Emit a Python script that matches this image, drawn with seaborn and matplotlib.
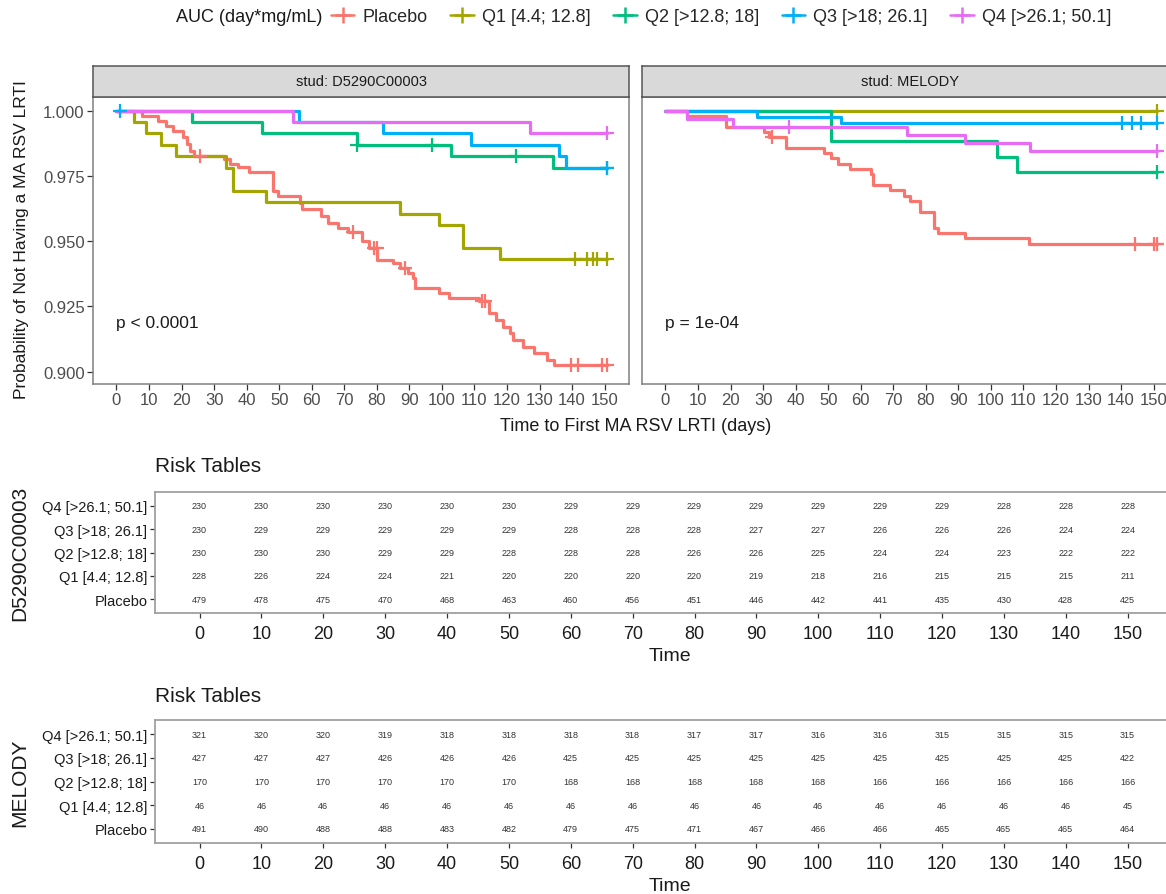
import numpy as np
import pandas as pd
import matplotlib
matplotlib.use("Agg")
import matplotlib.pyplot as plt
import seaborn as sns
from matplotlib.lines import Line2D

sns.set_style("white")
plt.rcParams["font.family"] = ["Liberation Sans", "DejaVu Sans"]

# ---------------- data ----------------
groups = ["Placebo", "Q1 [4.4; 12.8]", "Q2 [>12.8; 18]", "Q3 [>18; 26.1]", "Q4 [>26.1; 50.1]"]
colors = ["#F8766D", "#A3A500", "#00BF7D", "#00B0F6", "#E76BF3"]
studies = ["D5290C00003", "MELODY"]
legend_title = "AUC (day*mg/mL)"
p_values = ["p < 0.0001", "p = 1e-04"]

# D5290C00003 - event times / survival after each event / censor times
d3_placebo_t = [7.9, 12.7, 15.3, 17.4, 20.6, 21.6, 22.7, 23.7, 33.2, 34.8, 37.4, 40.6, 48.0, 49.6,
                56.4, 57.0, 62.8, 64.9, 68.0, 71.2, 75.4, 77.5, 80.2, 84.9, 87.0, 89.7, 91.2, 91.8,
                99.2, 102.3, 111.3, 114.5, 116.6, 118.7, 120.8, 121.8, 125.0, 128.2, 132.4, 134.5]
d3_placebo_s = [0.99808, 0.99615, 0.99423, 0.99231, 0.98974, 0.98718, 0.98462, 0.98269, 0.98141,
                0.97949, 0.97821, 0.97654, 0.96923, 0.96731, 0.96474, 0.96218, 0.95962, 0.95705,
                0.95513, 0.95346, 0.95000, 0.94744, 0.94295, 0.94167, 0.93974, 0.93782, 0.93590,
                0.93205, 0.93013, 0.92821, 0.92692, 0.92244, 0.91987, 0.91731, 0.91474, 0.91218,
                0.90962, 0.90705, 0.90449, 0.90256]
d3_placebo_c = [25.8, 72.8, 79.0, 80.0, 88.6, 112.3, 113.4, 139.8, 141.9, 149.3, 150.8]
d3_q1_t = [5.3, 9.0, 13.7, 18.2, 33.8, 35.9, 46.0, 87.0, 99.2, 106.5, 118.0]
d3_q1_s = [0.99561, 0.99123, 0.98684, 0.98246, 0.97807, 0.96930, 0.96491, 0.96053, 0.95614, 0.94737, 0.94298]
d3_q1_c = [140.8, 144.7, 146.3, 147.8, 150.8]
d3_q2_t = [23.2, 44.8, 73.8, 102.8, 134.0]
d3_q2_s = [0.99565, 0.99130, 0.98696, 0.98257, 0.97818]
d3_q2_c = [73.8, 97.0, 122.9, 150.8]
d3_q3_t = [56.0, 82.0, 109.0, 136.0, 138.0]
d3_q3_s = [0.99563, 0.99127, 0.98690, 0.98254, 0.97817]
d3_q3_c = [1.0, 150.8]
d3_q4_t = [54.3, 127.0]
d3_q4_s = [0.99565, 0.99130]
d3_q4_c = [150.8]

# MELODY
mel_placebo_t = [6.7, 18.7, 30.2, 31.7, 36.9, 48.8, 50.9, 53.0, 56.8, 63.3, 63.9, 69.1, 73.2, 75.3,
                 78.2, 82.6, 83.9, 91.9, 111.6]
mel_placebo_s = [0.99796, 0.99389, 0.99185, 0.98982, 0.98574, 0.98370, 0.98166, 0.97962, 0.97760,
                 0.97556, 0.97148, 0.96945, 0.96741, 0.96537, 0.96130, 0.95519, 0.95316, 0.95112, 0.94908]
mel_placebo_c = [32.7, 144.3, 150.0, 151.0]
mel_q1_t = []
mel_q1_s = []
mel_q1_c = [151.0]
mel_q2_t = [50.9, 102.0, 108.0]
mel_q2_s = [0.98824, 0.98235, 0.97647]
mel_q2_c = [151.0]
mel_q3_t = [28.0, 54.0]
mel_q3_s = [0.99766, 0.99532]
mel_q3_c = [140.2, 143.3, 146.1, 151.0]
mel_q4_t = [6.7, 20.8, 74.2, 92.1, 112.0]
mel_q4_s = [0.99688, 0.99377, 0.99065, 0.98754, 0.98442]
mel_q4_c = [37.9, 151.0]

# Risk tables (numbers at risk at 0,10,...,150)
risk_times = list(range(0, 151, 10))
d3_risk_placebo = [479, 478, 475, 470, 468, 463, 460, 456, 451, 446, 442, 441, 435, 430, 428, 425]
d3_risk_q1 = [228, 226, 224, 224, 221, 220, 220, 220, 220, 219, 218, 216, 215, 215, 215, 211]
d3_risk_q2 = [230, 230, 230, 229, 229, 228, 228, 228, 226, 226, 225, 224, 224, 223, 222, 222]
d3_risk_q3 = [230, 229, 229, 229, 229, 229, 228, 228, 228, 227, 227, 226, 226, 226, 224, 224]
d3_risk_q4 = [230, 230, 230, 230, 230, 230, 229, 229, 229, 229, 229, 229, 229, 228, 228, 228]
mel_risk_placebo = [491, 490, 488, 488, 483, 482, 479, 475, 471, 467, 466, 466, 465, 465, 465, 464]
mel_risk_q1 = [46, 46, 46, 46, 46, 46, 46, 46, 46, 46, 46, 46, 46, 46, 46, 45]
mel_risk_q2 = [170, 170, 170, 170, 170, 170, 168, 168, 168, 168, 168, 166, 166, 166, 166, 166]
mel_risk_q3 = [427, 427, 427, 426, 426, 426, 425, 425, 425, 425, 425, 425, 425, 425, 425, 422]
mel_risk_q4 = [321, 320, 320, 319, 318, 318, 318, 318, 317, 317, 316, 316, 315, 315, 315, 315]

# ---------------- build tables ----------------
km = {
    "D5290C00003": [(d3_placebo_t, d3_placebo_s, d3_placebo_c), (d3_q1_t, d3_q1_s, d3_q1_c),
                    (d3_q2_t, d3_q2_s, d3_q2_c), (d3_q3_t, d3_q3_s, d3_q3_c), (d3_q4_t, d3_q4_s, d3_q4_c)],
    "MELODY": [(mel_placebo_t, mel_placebo_s, mel_placebo_c), (mel_q1_t, mel_q1_s, mel_q1_c),
               (mel_q2_t, mel_q2_s, mel_q2_c), (mel_q3_t, mel_q3_s, mel_q3_c), (mel_q4_t, mel_q4_s, mel_q4_c)],
}
risk = {
    "D5290C00003": [d3_risk_placebo, d3_risk_q1, d3_risk_q2, d3_risk_q3, d3_risk_q4],
    "MELODY": [mel_risk_placebo, mel_risk_q1, mel_risk_q2, mel_risk_q3, mel_risk_q4],
}

line_rows, cens_rows = [], []
for st in studies:
    for g, (t, s, c) in zip(groups, km[st]):
        tt = [0.0] + list(t) + [max(c)]
        ss = [1.0] + list(s) + [s[-1] if s else 1.0]
        for a, b in zip(tt, ss):
            line_rows.append((st, g, a, b))
        tt_arr = np.array(tt)
        for ci in c:
            idx = np.searchsorted(tt_arr[:-1], ci, side="right") - 1
            cens_rows.append((st, g, ci, ss[idx]))
lines_df = pd.DataFrame(line_rows, columns=["study", "group", "time", "surv"])
cens_df = pd.DataFrame(cens_rows, columns=["study", "group", "time", "surv"])
palette = dict(zip(groups, colors))

# ---------------- figure ----------------
W, H = 1166, 895
fig = plt.figure(figsize=(W / 100, H / 100), dpi=100)

def fx(px):
    return px / W

def fy(py):
    return 1 - py / H

xlim = (-7.2, 157.5)
ylim = (0.8953, 1.0052)
panel_left = [93, 642]
panel_w = 536
gray_spine = "#808080"
tick_gray = "#4D4D4D"

for i, st in enumerate(studies):
    ax = fig.add_axes([fx(panel_left[i]), fy(385), fx(panel_w), (385 - 98) / H])
    sub = lines_df[lines_df.study == st]
    sns.lineplot(data=sub, x="time", y="surv", hue="group", hue_order=groups, palette=palette,
                 estimator=None, sort=False, drawstyle="steps-post", linewidth=2.3,
                 legend=False, ax=ax)
    csub = cens_df[cens_df.study == st]
    for g in groups:
        cc = csub[csub.group == g]
        sns.scatterplot(data=cc, x="time", y="surv", color=palette[g], marker="+", s=110,
                        linewidth=1.6, legend=False, ax=ax, zorder=3)
    ax.set_xlim(*xlim)
    ax.set_ylim(*ylim)
    ax.set_xticks(risk_times)
    ax.set_xlabel("")
    ax.set_ylabel("")
    ax.tick_params(axis="both", length=4, width=0.9, color="#333333", labelcolor=tick_gray,
                   labelsize=12, pad=2, direction="out", bottom=True, left=True)
    ax.set_yticks([0.900, 0.925, 0.950, 0.975, 1.000])
    ax.set_yticklabels(["0.900", "0.925", "0.950", "0.975", "1.000"])
    if i == 1:
        ax.tick_params(axis="y", labelleft=False, left=False)
    for sp in ax.spines.values():
        sp.set_color(gray_spine)
        sp.set_linewidth(1.1)
    ax.text(0, 0.9189, p_values[i], fontsize=12.5, va="center", ha="left", color="#1a1a1a")
    # facet strip
    sax = fig.add_axes([fx(panel_left[i]), fy(98), fx(panel_w), (98 - 67) / H])
    sax.set_facecolor("#D9D9D9")
    sax.set_xticks([])
    sax.set_yticks([])
    for sp in sax.spines.values():
        sp.set_color("#555555")
        sp.set_linewidth(1.1)
    sax.text(0.5, 0.5, f"stud: {st}", ha="center", va="center", fontsize=10.5,
             color="#1a1a1a", transform=sax.transAxes)

fig.text(fx(22), fy(240), "Probability of Not Having a MA RSV LRTI", rotation=90,
         ha="center", va="center", fontsize=12.5, color="#1a1a1a")
fig.text(fx(636), fy(427), "Time to First MA RSV LRTI (days)", ha="center", va="center",
         fontsize=13, color="#1a1a1a")

# legend
handles = [Line2D([0], [0], color=c, lw=1.8, marker="+", markersize=11, markeredgewidth=1.8)
           for c in colors]
fig.text(fx(322), fy(18), legend_title, ha="right", va="center", fontsize=13, color="#1a1a1a")
fig.legend(handles, groups, loc="center left", bbox_to_anchor=(fx(331), fy(18)), ncol=5,
           frameon=False, fontsize=13, handlelength=1.3, handletextpad=0.45,
           columnspacing=1.25, borderaxespad=0, borderpad=0)

# risk tables
table_pos = [(493, 614, 467), (721, 844, 697)]
for i, st in enumerate(studies):
    top, bot, ttl = table_pos[i]
    tax = fig.add_axes([fx(155), fy(bot), fx(1030), (bot - top) / H])
    for r, (g, vals) in enumerate(zip(groups, risk[st])):
        for t, v in zip(risk_times, vals):
            tax.text(t, r + 1, str(v), ha="center", va="center", fontsize=6.5, color="#333333")
    tax.set_xlim(xlim[0], xlim[0] + (xlim[1] - xlim[0]) * 1030 / 1019)
    tax.set_ylim(0.4, 5.6)
    tax.set_yticks(range(1, 6))
    tax.set_yticklabels(groups, fontsize=10.5, color="#1a1a1a")
    tax.set_xticks(risk_times)
    tax.set_xticklabels([str(t) for t in risk_times], fontsize=13, color="#1a1a1a")
    tax.tick_params(axis="x", length=3.5, width=0.9, color="#333333", pad=5, bottom=True)
    tax.tick_params(axis="y", length=3.5, width=0.9, color="#333333", pad=2, left=True)
    tax.set_xlabel("Time", fontsize=14, labelpad=4, color="#1a1a1a")
    for sp in tax.spines.values():
        sp.set_color("#A0A0A0")
        sp.set_linewidth(1.3)
    tax.spines["right"].set_visible(False)
    fig.text(fx(155), fy(ttl), "Risk Tables", ha="left", va="center", fontsize=15, color="#1a1a1a")
    fig.text(fx(20), fy((top + bot) / 2), st, rotation=90, ha="center", va="center",
             fontsize=15, color="#1a1a1a")

fig.savefig("out.png", dpi=100)
